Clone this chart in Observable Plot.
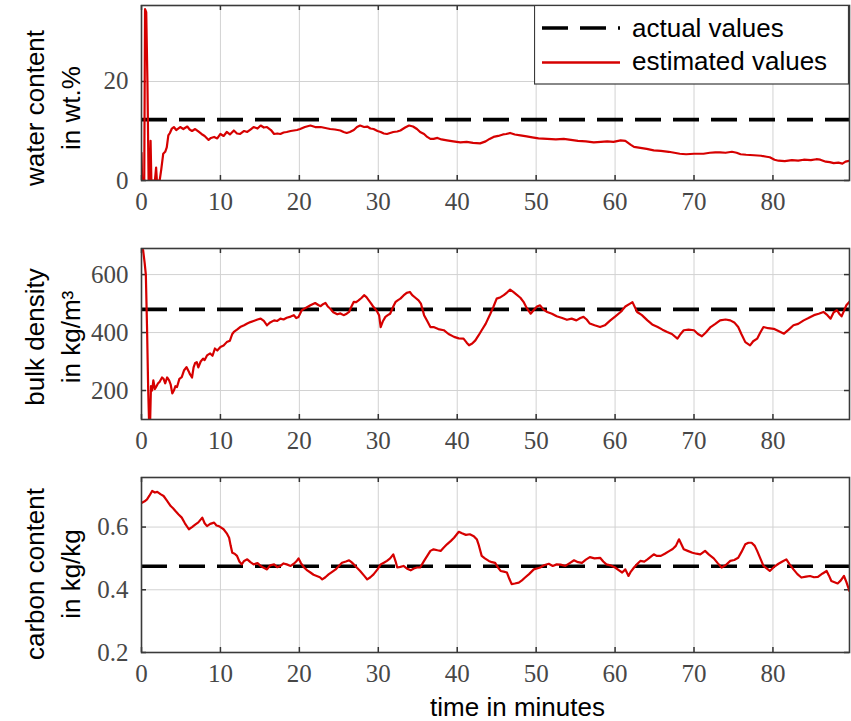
<!DOCTYPE html>
<html><head><meta charset="utf-8">
<script src="https://cdn.jsdelivr.net/npm/d3@7"></script>
<script src="https://cdn.jsdelivr.net/npm/@observablehq/plot@0.6"></script>
<style>
body{margin:0;background:#fff;}
#chart{position:relative;width:851px;height:721px;overflow:hidden;background:#fff;}
#chart svg.panel{position:absolute;left:0;}
#legend{position:absolute;left:534px;top:5px;z-index:5;}
</style></head>
<body>
<div id="chart"></div>
<script>
// ---------- data ----------
const xTicks = [0,10,20,30,40,50,60,70,80];
const xDomain = [0, 89.7];

const waterActual = 12.3;
const waterTicks = [0, 20];
const waterDomain = [0, 35.35];
const waterEstimated = [
[0,5.6],[0.08,0],[0.35,0],[0.45,34.6],[0.6,34],[0.75,20],[0.9,0],[1.05,0],[1.15,8],[1.25,0],[1.7,0],[1.85,2.6],[1.95,0],[2.3,0],[2.5,2.2],[2.75,5.4],[3.0,5.8],[3.2,6.7],[3.4,9.1],[3.6,9.6],[3.85,10.5],[4.1,10.8],[4.4,10.2],[4.9,10.8],[5.3,10.4],[5.8,10.9],[6.1,10.3],[6.4,10.0],[6.8,10.4],[7.2,9.9],[7.6,9.4],[8.0,9.0],[8.5,8.2],[8.8,8.6],[9.2,8.8],[9.6,8.5],[10,9.4],[10.4,9.0],[10.8,9.8],[11.2,9.3],[11.7,10.1],[12.1,9.5],[12.5,9.4],[13.0,10.0],[13.4,9.8],[13.8,10.3],[14.2,10.8],[14.7,10.5],[15.1,11.1],[15.5,10.7],[15.9,10.8],[16.4,10.2],[16.8,9.4],[17.2,9.5],[17.6,9.4],[18.0,9.7],[18.4,9.8],[18.9,10.0],[19.3,10.1],[19.7,10.2],[20.1,10.4],[20.7,10.8],[21.4,11.1],[22.0,10.8],[22.7,10.8],[23.3,10.6],[23.9,10.4],[24.5,10.3],[25.2,10.1],[25.6,9.8],[26.0,9.6],[26.4,9.8],[26.9,10.2],[27.3,10.8],[27.7,11.1],[28.2,10.8],[28.6,10.9],[29.0,10.5],[29.4,10.4],[29.9,10.0],[30.3,9.8],[30.7,9.5],[31.1,9.4],[31.5,9.6],[31.9,9.8],[32.4,9.9],[32.8,10.1],[33.4,10.7],[33.9,11.1],[34.4,10.9],[34.9,10.4],[35.3,9.8],[35.8,9.4],[36.2,8.8],[36.6,8.4],[37.0,8.4],[37.5,8.6],[38.0,8.3],[38.7,8.1],[39.5,7.9],[40.4,7.7],[41.2,7.8],[42.0,7.6],[42.9,7.5],[43.6,7.9],[44.1,8.4],[44.6,8.8],[45.2,9.0],[45.8,9.3],[46.2,9.4],[46.7,9.6],[47.3,9.3],[48.0,9.1],[48.8,8.9],[49.5,8.7],[50.3,8.5],[51.4,8.4],[52.5,8.3],[53.5,8.4],[54.4,8.2],[55.3,8.0],[56.3,7.9],[57.3,7.7],[58.2,7.8],[59.0,7.9],[59.8,7.8],[60.7,8.1],[61.3,8.0],[62.0,7.2],[62.4,6.8],[63.2,6.6],[64.0,6.4],[64.9,6.1],[65.8,6.0],[66.8,5.8],[67.5,5.6],[68.2,5.4],[69.0,5.3],[70.0,5.4],[71.2,5.4],[72.0,5.6],[72.7,5.7],[73.3,5.7],[74.0,5.6],[74.8,5.8],[75.4,5.6],[75.9,5.3],[76.6,5.2],[77.6,5.1],[78.5,5.0],[79.2,4.8],[79.6,4.7],[80.2,4.2],[80.7,4.0],[81.5,3.9],[82.4,4.1],[83.2,4.0],[83.9,4.2],[84.8,4.1],[85.5,4.3],[86.0,4.2],[86.7,3.8],[87.2,3.7],[87.7,3.5],[88.3,3.6],[88.8,3.4],[89.2,3.8],[89.7,4.0]
];

const densityActual = 480;
const densityTicks = [200, 400, 600];
const densityDomain = [100, 690];
const densityEstimated = [
[0,690],[0.2,685],[0.4,640],[0.55,600],[0.7,420],[0.85,200],[0.95,100],[1.1,100],[1.2,215],[1.35,200],[1.5,235],[1.7,205],[1.9,215],[2.1,225],[2.3,230],[2.6,245],[2.8,240],[3.0,225],[3.25,245],[3.5,235],[3.7,220],[3.9,190],[4.1,200],[4.3,215],[4.5,212],[4.8,240],[5.1,246],[5.4,270],[5.7,281],[6.0,265],[6.1,258],[6.4,245],[6.6,280],[6.8,295],[7.0,298],[7.2,280],[7.5,300],[7.8,310],[8.0,305],[8.3,321],[8.7,328],[9.0,320],[9.3,345],[9.6,338],[10.0,350],[10.4,355],[10.8,367],[11.2,372],[11.5,395],[11.7,402],[12.1,410],[12.5,419],[13.0,425],[13.4,431],[13.8,436],[14.2,440],[14.7,445],[15.1,448],[15.5,440],[15.9,425],[16.3,435],[16.8,442],[17.2,440],[17.6,448],[18.0,445],[18.4,451],[18.9,455],[19.3,460],[19.6,450],[19.9,454],[20.3,477],[20.8,485],[21.4,494],[22.0,502],[22.4,495],[22.7,491],[23.0,498],[23.3,502],[23.6,490],[23.9,483],[24.3,470],[24.8,463],[25.2,466],[25.6,460],[26.0,465],[26.3,471],[26.6,490],[26.9,506],[27.2,505],[27.5,511],[27.9,520],[28.2,529],[28.5,522],[28.8,511],[29.1,500],[29.4,488],[29.8,475],[30.1,460],[30.3,419],[30.6,440],[30.9,454],[31.2,460],[31.5,465],[31.9,490],[32.2,506],[32.5,512],[32.8,517],[33.2,528],[33.6,537],[34.0,540],[34.3,529],[34.7,520],[35.1,511],[35.4,500],[35.8,460],[36.2,440],[36.6,419],[37.0,419],[37.6,412],[38.3,408],[38.9,395],[39.6,385],[40.2,380],[40.8,379],[41.2,365],[41.5,356],[41.9,362],[42.3,373],[42.7,390],[43.1,408],[43.6,430],[44.2,465],[44.6,490],[45.0,517],[45.5,522],[45.9,529],[46.3,538],[46.7,548],[47.1,540],[47.6,529],[48.0,520],[48.4,506],[48.8,485],[49.3,465],[49.7,478],[50.1,490],[50.5,494],[50.9,480],[51.4,471],[52.0,465],[52.6,456],[53.3,450],[53.9,444],[54.5,448],[55.1,442],[55.6,450],[56.0,454],[56.4,445],[56.8,431],[57.4,425],[58.1,419],[58.7,425],[59.4,442],[60.0,455],[60.7,471],[61.3,490],[61.9,500],[62.2,505],[62.8,471],[63.4,460],[64.1,442],[64.7,428],[65.4,419],[66.0,410],[66.6,402],[67.2,395],[67.9,379],[68.3,395],[68.7,408],[69.3,410],[70.0,408],[70.5,395],[71.0,387],[71.5,400],[72.1,419],[72.7,430],[73.3,442],[74.0,445],[74.6,442],[75.1,435],[75.6,419],[76.0,395],[76.5,367],[77.1,356],[77.5,370],[78.0,379],[78.4,400],[78.8,419],[79.4,415],[80.1,413],[80.7,405],[81.4,396],[82.0,410],[82.6,425],[83.2,430],[83.9,442],[84.5,450],[85.2,460],[85.8,465],[86.4,471],[86.9,460],[87.3,448],[87.7,470],[88.1,477],[88.4,465],[88.7,456],[89.0,475],[89.3,494],[89.7,506]
];

const carbonActual = 0.475;
const carbonTicks = [0.2, 0.4, 0.6];
const carbonDomain = [0.2, 0.758];
const carbonEstimated = [
[0,0.677],[0.4,0.682],[0.7,0.688],[1.0,0.700],[1.35,0.715],[1.7,0.710],[2.0,0.712],[2.4,0.705],[2.8,0.699],[3.2,0.685],[3.7,0.667],[4.0,0.660],[4.3,0.651],[4.7,0.640],[5.1,0.630],[5.5,0.612],[6.0,0.593],[6.4,0.600],[6.8,0.608],[7.2,0.615],[7.7,0.630],[8.0,0.612],[8.3,0.603],[8.7,0.610],[9.2,0.614],[9.5,0.605],[9.8,0.603],[10.1,0.598],[10.4,0.593],[10.8,0.580],[11.1,0.566],[11.3,0.540],[11.5,0.518],[11.8,0.515],[12.1,0.508],[12.4,0.490],[12.7,0.481],[13.0,0.492],[13.4,0.497],[13.8,0.488],[14.2,0.481],[14.7,0.485],[15.1,0.476],[15.5,0.470],[15.9,0.465],[16.3,0.478],[16.8,0.481],[17.2,0.472],[17.6,0.476],[18.0,0.484],[18.4,0.481],[18.9,0.476],[19.3,0.483],[19.6,0.490],[19.9,0.500],[20.2,0.485],[20.6,0.471],[21.0,0.462],[21.4,0.455],[21.8,0.448],[22.2,0.444],[22.6,0.440],[22.9,0.433],[23.3,0.440],[23.7,0.449],[24.2,0.458],[24.6,0.465],[25.0,0.476],[25.4,0.486],[25.9,0.490],[26.3,0.494],[26.6,0.488],[26.9,0.481],[27.3,0.470],[27.7,0.460],[28.2,0.445],[28.6,0.433],[29.0,0.440],[29.4,0.449],[29.9,0.465],[30.3,0.481],[30.7,0.486],[31.1,0.492],[31.5,0.500],[31.9,0.513],[32.2,0.490],[32.4,0.471],[32.8,0.473],[33.2,0.476],[33.6,0.468],[34.1,0.462],[34.5,0.468],[34.9,0.471],[35.3,0.471],[35.8,0.492],[36.2,0.508],[36.6,0.524],[37.0,0.529],[37.5,0.526],[37.9,0.524],[38.3,0.535],[38.7,0.545],[39.2,0.556],[39.6,0.566],[40.2,0.585],[40.6,0.580],[41.1,0.575],[41.6,0.577],[42.1,0.571],[42.5,0.560],[42.7,0.545],[43.1,0.508],[43.5,0.500],[44.0,0.492],[44.4,0.488],[44.8,0.486],[45.2,0.470],[45.5,0.460],[45.9,0.458],[46.3,0.455],[46.6,0.435],[46.9,0.418],[47.3,0.420],[47.8,0.423],[48.2,0.430],[48.6,0.439],[49.1,0.450],[49.7,0.465],[50.1,0.468],[50.5,0.471],[51.0,0.478],[51.6,0.483],[52.1,0.476],[52.6,0.481],[53.1,0.480],[53.7,0.476],[54.3,0.486],[54.8,0.494],[55.3,0.488],[55.8,0.486],[56.3,0.496],[56.8,0.504],[57.4,0.500],[58.1,0.502],[58.5,0.490],[58.9,0.481],[59.4,0.478],[60.0,0.471],[60.5,0.462],[60.9,0.455],[61.3,0.465],[61.7,0.444],[62.0,0.458],[62.4,0.471],[62.8,0.482],[63.2,0.492],[63.7,0.490],[64.1,0.497],[64.5,0.505],[64.9,0.513],[65.3,0.508],[65.8,0.508],[66.3,0.515],[66.9,0.524],[67.3,0.530],[67.7,0.540],[68.1,0.561],[68.4,0.545],[68.7,0.529],[69.2,0.524],[69.8,0.518],[70.3,0.515],[70.8,0.513],[71.4,0.524],[71.9,0.512],[72.5,0.500],[73.0,0.485],[73.5,0.471],[74.0,0.478],[74.6,0.492],[75.1,0.495],[75.6,0.502],[76.0,0.520],[76.5,0.545],[76.9,0.550],[77.3,0.550],[77.7,0.540],[78.0,0.524],[78.4,0.500],[78.8,0.476],[79.2,0.468],[79.6,0.460],[80.1,0.472],[80.7,0.483],[81.2,0.490],[81.7,0.497],[82.1,0.482],[82.6,0.465],[83.1,0.450],[83.6,0.439],[84.2,0.442],[84.7,0.444],[85.2,0.440],[85.7,0.441],[86.3,0.452],[86.8,0.460],[87.1,0.445],[87.4,0.428],[87.8,0.424],[88.2,0.420],[88.6,0.430],[89.0,0.444],[89.3,0.425],[89.7,0.396]
];

const legendLabels = ["actual values", "estimated values"];
const xTitle = "time in minutes";

// ---------- drawing ----------
const W = 851, ML = 141, MR = 2;
const RED = "#d60000";
const SANS = "Liberation Sans";
const SERIF = "Liberation Serif";
const TICKCOLOR = "#474747";

function panel({data, actual, yDomain, yTicks, label, top, height, marginTop, marginBottom, labelDy, extra = []}) {
  const fh = height - marginTop - marginBottom;
  const fw = W - ML - MR;
  const svg = Plot.plot({
    width: W, height, marginLeft: ML, marginRight: MR, marginTop, marginBottom,
    x: {domain: xDomain, axis: null},
    y: {domain: yDomain, axis: null},
    marks: [
      Plot.gridX({ticks: xTicks, stroke: "#d2d2d2", strokeOpacity: 1, strokeWidth: 1}),
      Plot.gridY({ticks: yTicks, stroke: "#d2d2d2", strokeOpacity: 1, strokeWidth: 1}),
      Plot.tickX(xTicks, {x: d => d, insetTop: fh - 5, stroke: "#333", strokeWidth: 1.5}),
      Plot.tickX(xTicks, {x: d => d, insetBottom: fh - 5, stroke: "#333", strokeWidth: 1.5}),
      Plot.tickY(yTicks, {y: d => d, insetRight: fw - 5, stroke: "#333", strokeWidth: 1.5}),
      Plot.tickY(yTicks, {y: d => d, insetLeft: fw - 5, stroke: "#333", strokeWidth: 1.5}),
      Plot.ruleY([actual], {y: d => d, stroke: "black", strokeWidth: 3.6, strokeDasharray: "26,12"}),
      Plot.line(data, {x: d => d[0], y: d => d[1], stroke: RED, strokeWidth: 2.2, clip: true}),
      Plot.frame({stroke: "#3a3a3a", strokeWidth: 1.6}),
      // tick labels (serif, as in the reference)
      Plot.text(xTicks, {x: d => d, text: d => String(d), frameAnchor: "bottom", dy: 21,
        lineAnchor: "middle", fontFamily: SERIF, fontSize: 25, fill: TICKCOLOR}),
      Plot.text(yTicks, {y: d => d, text: d => String(d), frameAnchor: "left", dx: -13,
        textAnchor: "end", lineAnchor: "middle", fontFamily: SERIF, fontSize: 25, fill: TICKCOLOR}),
      Plot.text([label], {text: d => d, frameAnchor: "left", dx: -91, dy: labelDy, rotate: -90,
        fontSize: 26, fontFamily: SANS, fill: "black", lineHeight: 1.38, textAnchor: "middle", lineAnchor: "middle"}),
      ...extra
    ]
  });
  svg.classList.add("panel");
  svg.style.top = top + "px";
  svg.style.background = "transparent";
  return svg;
}

const chart = document.getElementById("chart");
chart.append(panel({data: waterEstimated, actual: waterActual, yDomain: waterDomain, yTicks: waterTicks,
  label: "water content\nin wt.%", top: 0, height: 222, marginTop: 5, marginBottom: 42, labelDy: 15}));
chart.append(panel({data: densityEstimated, actual: densityActual, yDomain: densityDomain, yTicks: densityTicks,
  label: "bulk density\nin kg/m³", top: 228, height: 234, marginTop: 20, marginBottom: 43, labelDy: 3}));
chart.append(panel({data: carbonEstimated, actual: carbonActual, yDomain: carbonDomain, yTicks: carbonTicks,
  label: "carbon content\nin kg/kg", top: 462, height: 259, marginTop: 15, marginBottom: 69, labelDy: 9,
  extra: [Plot.text([xTitle], {text: d => d, frameAnchor: "bottom", dx: 22, dy: 55, fontSize: 26,
    fontFamily: SANS, fill: "black", lineAnchor: "middle"})]}));

// legend box
const lg = d3.create("svg").attr("id", "legend").attr("width", 315).attr("height", 80);
lg.append("rect").attr("x", 0.5).attr("y", 0.5).attr("width", 314).attr("height", 78.5)
  .attr("fill", "white").attr("stroke", "#3a3a3a").attr("stroke-width", 1.2);
lg.append("line").attr("x1", 8).attr("x2", 86).attr("y1", 23).attr("y2", 23)
  .attr("stroke", "black").attr("stroke-width", 3.6).attr("stroke-dasharray", "26,12");
lg.append("line").attr("x1", 8).attr("x2", 86).attr("y1", 57.5).attr("y2", 57.5)
  .attr("stroke", RED).attr("stroke-width", 2.4);
lg.selectAll("text").data(legendLabels).join("text")
  .attr("x", 98).attr("y", (d, i) => i === 0 ? 32 : 65)
  .attr("font-family", SANS).attr("font-size", 26).attr("fill", "black").text(d => d);
chart.append(lg.node());
</script>
</body></html>
